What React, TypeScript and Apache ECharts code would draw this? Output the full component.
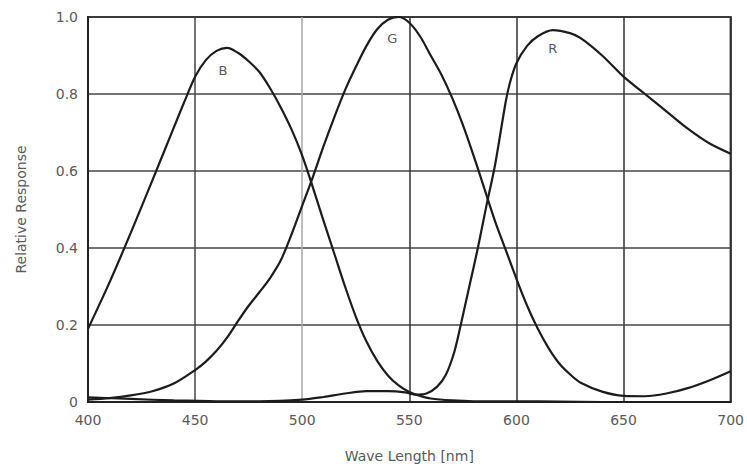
import React, { useEffect, useRef } from "react";
import * as echarts from "echarts";

// Wavelength ticks (nm) and response ticks
const xTicks = [400, 450, 500, 550, 600, 650, 700];
const yTicks = [0, 0.2, 0.4, 0.6, 0.8, 1.0];

// Blue channel: [wavelength nm, relative response]
const blueCurve: [number, number][] = [
  [400, 0.19], [410, 0.31], [420, 0.44], [430, 0.575], [440, 0.712], [445, 0.78],
  [450, 0.845], [455, 0.888], [460, 0.912], [465, 0.92], [470, 0.907], [475, 0.885],
  [480, 0.857], [485, 0.815], [490, 0.765], [495, 0.708], [500, 0.64], [505, 0.557],
  [510, 0.47], [515, 0.385], [520, 0.3], [525, 0.222], [530, 0.157], [535, 0.107],
  [540, 0.069], [545, 0.043], [550, 0.026], [555, 0.016], [560, 0.009], [570, 0.004],
  [580, 0.002], [600, 0.002], [620, 0.001], [640, 0], [700, 0],
];

// Green channel
const greenCurve: [number, number][] = [
  [400, 0.006], [410, 0.01], [420, 0.017], [430, 0.028], [440, 0.048], [450, 0.083],
  [455, 0.105], [460, 0.133], [465, 0.168], [470, 0.21], [475, 0.25], [480, 0.285],
  [485, 0.322], [490, 0.368], [495, 0.435], [500, 0.51], [505, 0.585], [510, 0.665],
  [515, 0.74], [520, 0.81], [525, 0.87], [530, 0.925], [535, 0.968], [540, 0.993],
  [545, 1.0], [550, 0.985], [555, 0.95], [560, 0.9], [565, 0.85], [570, 0.79],
  [575, 0.72], [580, 0.64], [585, 0.555], [590, 0.47], [595, 0.395], [600, 0.32],
  [605, 0.25], [610, 0.19], [615, 0.14], [620, 0.1], [625, 0.072], [630, 0.05],
  [640, 0.027], [650, 0.016], [660, 0.015], [670, 0.022], [680, 0.036], [690, 0.056],
  [700, 0.08],
];

// Red channel
const redCurve: [number, number][] = [
  [400, 0.012], [420, 0.008], [440, 0.004], [460, 0.002], [480, 0.002], [500, 0.006],
  [510, 0.013], [520, 0.022], [530, 0.028], [540, 0.028], [548, 0.025], [553, 0.019],
  [558, 0.022], [563, 0.04], [567, 0.07], [571, 0.13], [574, 0.2], [578, 0.3],
  [582, 0.4], [586, 0.51], [590, 0.615], [595, 0.78], [597, 0.83], [600, 0.88],
  [605, 0.925], [610, 0.95], [617, 0.966], [625, 0.958], [630, 0.945], [640, 0.9],
  [650, 0.845], [660, 0.8], [670, 0.755], [680, 0.71], [690, 0.672], [700, 0.645],
];

// Curve name labels: [name, wavelength, response]
const curveLabels: [string, number, number][] = [
  ["B", 463, 0.86],
  ["G", 542, 0.943],
  ["R", 617, 0.917],
];

const xName = "Wave Length [nm]";
const yName = "Relative Response";

const FONT = "DejaVu Sans";
const TEXT_COLOR = "#5a5a5a";
const LINE_COLOR = "#1c1c1c";

export default function App() {
  const ref = useRef<HTMLDivElement>(null);

  useEffect(() => {
    if (!ref.current) return;
    const chart = echarts.init(ref.current, undefined, { renderer: "svg" });

    const series = [blueCurve, greenCurve, redCurve].map((data, i) => ({
      type: "line",
      name: curveLabels[i][0],
      data,
      smooth: 0.3,
      showSymbol: false,
      symbol: "none",
      lineStyle: { color: LINE_COLOR, width: 2.2 },
      z: 5,
      markPoint: {
        symbol: "circle",
        symbolSize: 0,
        silent: true,
        data: [
          {
            coord: [curveLabels[i][1], curveLabels[i][2]],
            label: {
              show: true,
              position: "inside",
              formatter: curveLabels[i][0],
              color: TEXT_COLOR,
              fontFamily: FONT,
              fontSize: 13,
            },
          },
        ],
      },
    }));

    chart.setOption({
      animation: false,
      backgroundColor: "#fff",
      grid: {
        left: 88,
        right: 12,
        top: 17,
        bottom: 66,
        show: true,
        borderColor: "#222",
        borderWidth: 2,
      },
      xAxis: {
        type: "value",
        min: xTicks[0],
        max: xTicks[xTicks.length - 1],
        interval: xTicks[1] - xTicks[0],
        name: xName,
        nameLocation: "middle",
        nameGap: 47,
        nameTextStyle: { color: TEXT_COLOR, fontFamily: FONT, fontSize: 14 },
        axisLine: { show: true, lineStyle: { color: "#222", width: 2 } },
        axisTick: { show: false },
        axisLabel: { color: TEXT_COLOR, fontFamily: FONT, fontSize: 14, margin: 11 },
        splitLine: {
          show: true,
          lineStyle: {
            color: ["#333", "#444", "#a8a8a8", "#333", "#333", "#333", "#333"],
            width: 1.5,
          },
        },
      },
      yAxis: {
        type: "value",
        min: yTicks[0],
        max: yTicks[yTicks.length - 1],
        interval: yTicks[1] - yTicks[0],
        name: yName,
        nameLocation: "middle",
        nameGap: 60,
        nameTextStyle: { color: TEXT_COLOR, fontFamily: FONT, fontSize: 14 },
        axisLine: { show: true, lineStyle: { color: "#222", width: 2 } },
        axisTick: { show: false },
        axisLabel: {
          color: TEXT_COLOR,
          fontFamily: FONT,
          fontSize: 14,
          margin: 10,
          formatter: (v: number) => (v === 0 ? "0" : v.toFixed(1)),
        },
        splitLine: { show: true, lineStyle: { color: "#444", width: 1.5 } },
      },
      series,
    });

    return () => chart.dispose();
  }, []);

  return (
    <div
      ref={ref}
      style={{ position: "fixed", left: 0, top: 0, width: 747, height: 468, background: "#fff" }}
    />
  );
}
